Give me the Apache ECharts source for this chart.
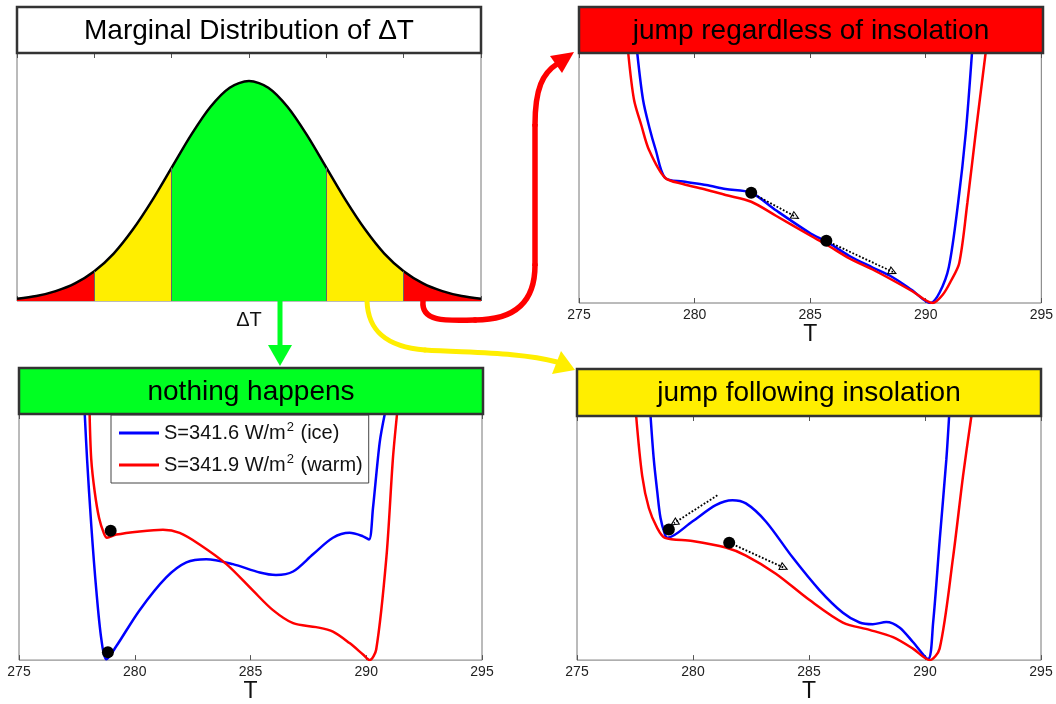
<!DOCTYPE html>
<html>
<head>
<meta charset="utf-8">
<script src="https://cdn.jsdelivr.net/npm/echarts@6/dist/echarts.min.js"></script>
<style>
html, body { margin: 0; padding: 0; background: #fff; }
#chart { width: 1056px; height: 704px; }
</style>
</head>
<body>
<div id="chart"></div>
<script>
const FONT = '"Liberation Sans", Arial, Helvetica, sans-serif';

// ---- Marginal distribution of ΔT (standardised units) ----
const dtValues  = [-3, -2.75, -2.5, -2.25, -2, -1.75, -1.5, -1.25, -1, -0.75, -0.5, -0.25, 0,
                   0.25, 0.5, 0.75, 1, 1.25, 1.5, 1.75, 2, 2.25, 2.5, 2.75, 3];
const dtDensity = [0.004, 0.009, 0.018, 0.032, 0.054, 0.086, 0.130, 0.183, 0.242, 0.301, 0.352, 0.387, 0.399,
                   0.387, 0.352, 0.301, 0.242, 0.183, 0.130, 0.086, 0.054, 0.032, 0.018, 0.009, 0.004];
const bandEdges  = [-3, -2, -1, 1, 2, 3];
const bandColors = ['#ff0000', '#ffee00', '#00ff22', '#ffee00', '#ff0000'];

// ---- Potential curves V(T) for the two insolation values ----
const nameIce  = 'S=341.6 W/m2 (ice)';
const nameWarm = 'S=341.9 W/m2 (warm)';

// jump regardless of insolation
const trIce = [[277.52,100],[277.77,81.3],[278.05,70],[278.32,61.2],[278.72,50.1],[279.5,48.6],[280.5,47.2],
  [281.34,45.6],[282.45,44.1],[283.5,37.2],[285.02,27.8],[285.7,24.6],[286.7,18.8],[287.7,14.2],[288.55,10.4],
  [289.4,5.2],[290.2,0],[290.6,4.2],[291.0,14.4],[291.4,40],[291.73,67.9],[292.0,100]];
const trWarm = [[277.13,100],[277.38,81.3],[277.7,71],[278.03,61.2],[278.72,50.1],[279.5,47.6],[280.5,45.3],
  [281.34,43.2],[282.45,40.5],[283.5,35],[285.02,26.9],[285.7,23.4],[286.7,17.8],[287.7,13.4],[288.55,9.2],
  [289.4,4.8],[290.3,0],[290.75,3.5],[291.1,9],[291.45,16],[291.8,40],[292.16,67.9],[292.59,100]];
const trDots = [[282.45,44.1],[285.7,24.9]];
const trArrows = [[[282.45,44.1],[284.37,34.5]], [[285.7,24.9],[288.58,12.4]]];

// nothing happens
const blIce = [[277.84,100],[277.94,81.7],[278.12,55],[278.34,28.3],[278.56,8.3],[278.77,0.3],[279.2,5.6],
  [280.21,20.3],[281.36,33.6],[282.23,39.7],[283.09,41],[284.24,39],[285.4,35.6],[286.1,34.6],[286.84,36],
  [287.7,43],[288.56,49.7],[289.28,51.7],[289.86,50.3],[290.12,49],[290.29,61.7],[290.58,88.4],[290.8,100]];
const blWarm = [[278.05,100],[278.12,81.7],[278.27,68.4],[278.46,57.7],[278.66,51.7],[278.8,49.7],[279.2,51],
  [280.21,52.3],[281.22,53],[281.94,51.7],[282.8,47],[283.96,39],[285.1,28.3],[285.97,20.3],[286.84,15],
  [287.84,13.4],[288.56,11.6],[289.28,6.9],[289.86,2.3],[290.15,0],[290.43,4.3],[290.87,41.7],[291.15,81.7],[291.33,100]];
const blDots = [[278.96,52.6],[278.84,3.2]];
const blArrows = [];

// jump following insolation
const brIce = [[278.17,100],[278.31,82.2],[278.46,68.9],[278.6,58.2],[278.79,51.5],[278.89,50.1],[279.97,56.8],
  [280.98,63.5],[281.7,65.5],[282.28,64.2],[283.14,56.8],[284.29,42.1],[285.45,28.7],[286.46,19.4],[287.18,15.4],
  [287.75,14.7],[288.33,15.6],[288.9,13.4],[289.48,7.4],[290.13,0.4],[290.35,15.4],[290.63,48.8],[290.92,82.2],[291.04,100]];
const brWarm = [[277.55,100],[277.81,75.5],[278.1,62.2],[278.46,54.1],[278.79,50.1],[279.97,48.8],[281.41,46.1],
  [282.28,42.8],[283.57,35.4],[285.01,24.7],[286.46,15.4],[287.61,12.4],[288.62,9.4],[289.48,4.7],[290.2,0],
  [290.63,4.7],[291.21,42.1],[291.64,75.5],[292.0,100]];
const brDots = [[278.96,53.5],[281.56,48.1]];
const brArrows = [[[281.05,67.5],[279.18,56.1]], [[281.56,48.1],[283.93,37.8]]];

const panelTitles = ['Marginal Distribution of \u0394T', 'jump regardless of insolation',
                     'nothing happens', 'jump following insolation'];

// ---- layout ----
const panels = [
  { grid: { left: 17,  top: 53,  width: 464, height: 248 }, box: [17, 7, 464, 46],   fill: '#ffffff' },
  { grid: { left: 579, top: 53,  width: 463, height: 250 }, box: [579, 7, 464, 46],  fill: '#ff0000' },
  { grid: { left: 19,  top: 414, width: 463, height: 250 }, box: [19, 368, 464, 46], fill: '#00ff22' },
  { grid: { left: 577, top: 416, width: 464, height: 249 }, box: [577, 369, 464, 47], fill: '#ffee00' }
];

// open triangular head for the dotted drift arrows (points up; rotated along the line)
const OPEN_HEAD = 'path://M5,0 L10,10 L0,10 Z M5,2.8 L1.8,8.8 L8.2,8.8 Z';

const grids = panels.map(p => Object.assign({
  show: true, borderColor: '#777', borderWidth: 1, backgroundColor: 'transparent'
}, p.grid));

const xAxes = [];
const yAxes = [];
panels.forEach((p, i) => {
  const isDist = i === 0;
  const range = isDist ? { min: -3, max: 3, interval: 1 } : { min: 275, max: 295, interval: 5 };
  xAxes.push(Object.assign({
    gridIndex: i, type: 'value', position: 'bottom',
    axisLine: { show: false },
    axisTick: { inside: true, length: 5, lineStyle: { color: '#555' } },
    splitLine: { show: false },
    axisLabel: isDist
      ? { formatter: v => (v === 0 ? '\u0394T' : ''), fontSize: 20, color: '#111', margin: 9, fontFamily: FONT }
      : { fontSize: 14, color: '#222', margin: 5, fontFamily: FONT },
    name: isDist ? '' : 'T', nameLocation: 'middle', nameGap: 19,
    nameTextStyle: { fontSize: 23, color: '#111', fontFamily: FONT }
  }, range));
  xAxes.push(Object.assign({
    gridIndex: i, type: 'value', position: 'top',
    axisLine: { show: false },
    axisTick: { inside: true, length: 5, lineStyle: { color: '#555' } },
    axisLabel: { show: false }, splitLine: { show: false }
  }, range));
  yAxes.push({ gridIndex: i, type: 'value', min: 0, max: isDist ? 0.45 : 100, show: false });
});

const series = [];

// distribution: coloured bands under the density curve
const densityPts = dtValues.map((x, i) => [x, dtDensity[i]]);
bandColors.forEach((c, b) => {
  const lo = bandEdges[b], hi = bandEdges[b + 1];
  series.push({
    type: 'line', xAxisIndex: 0, yAxisIndex: 0, silent: true, smooth: 0.3, showSymbol: false,
    data: densityPts.filter(p => p[0] >= lo && p[0] <= hi),
    lineStyle: { width: 0 }, areaStyle: { color: c, opacity: 1 }, z: 2
  });
});
series.push({
  type: 'line', xAxisIndex: 0, yAxisIndex: 0, silent: true, smooth: 0.3, showSymbol: false,
  data: densityPts, lineStyle: { width: 2.5, color: '#000' }, z: 4,
  markLine: {
    silent: true, symbol: ['none', 'none'], label: { show: false },
    lineStyle: { color: '#666', width: 1, type: 'solid' },
    data: bandEdges.slice(1, -1).map(e => [
      { coord: [e, 0] }, { coord: [e, dtDensity[dtValues.indexOf(e)]] }
    ])
  }
});

function potentialSeries(i, ice, warm, dots, arrows) {
  const common = { type: 'line', xAxisIndex: 2 * i, yAxisIndex: i, silent: true, showSymbol: false,
                   smooth: 0.3, clip: true };
  series.push(Object.assign({ name: nameIce, data: ice, color: '#0000ff',
    lineStyle: { width: 2.5, color: '#0000ff' }, z: 3 }, common));
  series.push(Object.assign({ name: nameWarm, data: warm, color: '#ff0000',
    lineStyle: { width: 2.5, color: '#ff0000' }, z: 4 }, common));
  series.push({
    type: 'scatter', xAxisIndex: 2 * i, yAxisIndex: i, silent: true, data: dots,
    symbolSize: 12, itemStyle: { color: '#000', opacity: 1 }, z: 6,
    markLine: {
      silent: true, symbol: ['none', OPEN_HEAD], symbolSize: [9, 9], label: { show: false },
      itemStyle: { color: '#000' },
      lineStyle: { color: '#000', width: 1.8, type: 'dotted' },
      data: arrows.map(a => [{ coord: a[0] }, { coord: a[1] }])
    }
  });
}
potentialSeries(1, trIce, trWarm, trDots, trArrows);
potentialSeries(2, blIce, blWarm, blDots, blArrows);
potentialSeries(3, brIce, brWarm, brDots, brArrows);

// title boxes
const graphics = [];
panels.forEach((p, i) => {
  const [x, y, w, h] = p.box;
  graphics.push({ type: 'rect', z: 100, shape: { x, y, width: w, height: h },
                  style: { fill: p.fill, stroke: '#333', lineWidth: 2.5 } });
  graphics.push({ type: 'text', z: 101, x: x + w / 2, y: y + h / 2 + 1,
                  style: { text: panelTitles[i], font: '28px ' + FONT, fill: '#000',
                           textAlign: 'center', textVerticalAlign: 'middle' } });
});

// connecting arrows between panels
const redA = '#ff0000', yelA = '#ffee00', grnA = '#00ff22';
function curve(x1, y1, c1x, c1y, c2x, c2y, x2, y2, color, w) {
  return { type: 'bezierCurve', z: 90, shape: { x1, y1, cpx1: c1x, cpy1: c1y, cpx2: c2x, cpy2: c2y, x2, y2 },
           style: { stroke: color, lineWidth: w, fill: null, lineCap: 'round' } };
}
function seg(x1, y1, x2, y2, color, w) {
  return { type: 'line', z: 90, shape: { x1, y1, x2, y2 },
           style: { stroke: color, lineWidth: w, lineCap: 'butt' } };
}
function head(points, color) {
  return { type: 'polygon', z: 91, shape: { points }, style: { fill: color } };
}
graphics.push(
  curve(423, 301, 421, 322, 445, 321, 475, 320, redA, 5.5),
  curve(475, 320, 515, 320, 535, 302, 535, 265, redA, 5.5),
  seg(535, 266, 535, 124, redA, 5.5),
  curve(535, 125, 535, 88, 543, 73, 557, 64, redA, 5.5),
  head([[550, 56], [574, 52], [562, 73]], redA),

  curve(367, 301, 368, 330, 385, 347, 425, 350, yelA, 5),
  curve(425, 350, 470, 353, 520, 352, 557, 362, yelA, 5),
  head([[561, 351], [575, 370], [552, 374]], yelA),

  seg(280, 301, 280, 347, grnA, 5),
  head([[268, 345], [292, 345], [280, 366]], grnA)
);

const chart = echarts.init(document.getElementById('chart'), null, { renderer: 'canvas' });
chart.setOption({
  animation: false,
  backgroundColor: '#ffffff',
  textStyle: { fontFamily: FONT },
  grid: grids,
  xAxis: xAxes,
  yAxis: yAxes,
  legend: {
    left: 111, top: 415, orient: 'vertical',
    data: [nameIce, nameWarm],
    icon: 'rect', itemWidth: 40, itemHeight: 3, itemGap: 8,
    selectedMode: false,
    backgroundColor: '#fff', borderColor: '#444', borderWidth: 1,
    padding: [6, 6, 6, 8],
    formatter: n => n.replace('m2', 'm{sup|2}'),
    textStyle: {
      fontSize: 20, color: '#111', fontFamily: FONT, lineHeight: 24,
      rich: { sup: { fontSize: 13, lineHeight: 24, verticalAlign: 'top', padding: [0, 1, 0, 1], fontFamily: FONT, color: '#111' } }
    }
  },
  series: series,
  graphic: { elements: graphics }
});
</script>
</body>
</html>
